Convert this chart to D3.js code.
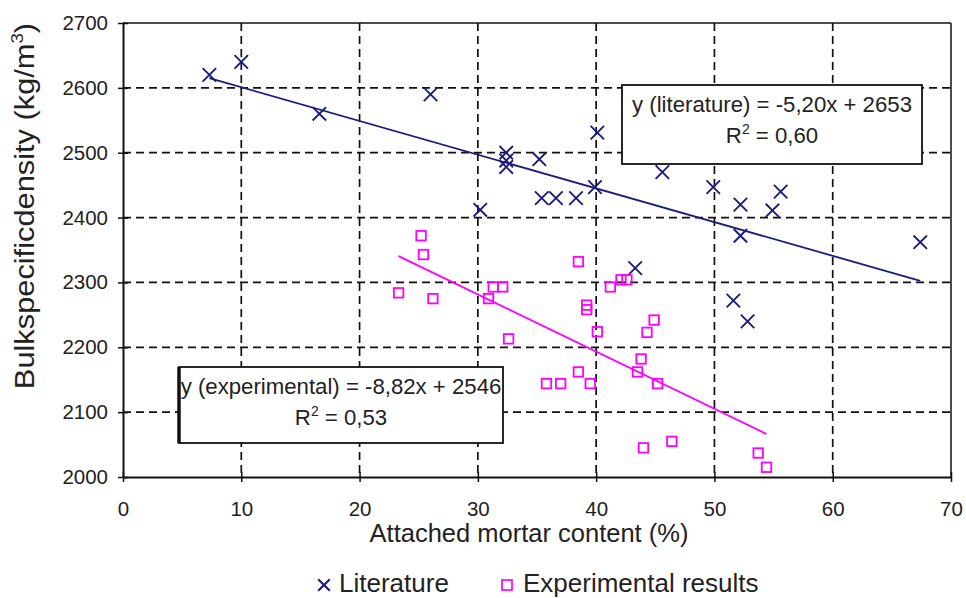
<!DOCTYPE html>
<html>
<head>
<meta charset="utf-8">
<script src="https://cdn.jsdelivr.net/npm/d3@7/dist/d3.min.js"></script>
<style>
  html, body { margin: 0; padding: 0; background: #fff; }
  svg text { font-family: "Liberation Sans", Arial, sans-serif; fill: #222; }
</style>
</head>
<body>
<svg id="chart" width="966" height="598"></svg>
<script>
// Attached mortar content (%) vs bulk specific density (kg/m3)
const literatureX = [7.3, 10.0, 16.6, 26.0, 32.4, 32.4, 32.4, 35.2, 35.4, 36.6, 38.3, 30.2,
                     40.1, 39.9, 45.6, 49.9, 52.2, 55.6, 54.9, 52.2, 67.4, 43.3, 51.6, 52.8];
const literatureY = [2620, 2640, 2560, 2590, 2500, 2488, 2478, 2490, 2430, 2430, 2430, 2412,
                     2531, 2447, 2470, 2447, 2420, 2440, 2411, 2372, 2362, 2322, 2272, 2240];

const experimentalX = [25.2, 25.4, 23.3, 26.2, 31.3, 32.1, 30.9, 32.6, 38.5, 39.2, 39.2, 40.1,
                       41.2, 42.1, 42.6, 44.9, 44.3, 43.8, 43.5, 38.5, 39.5, 35.8, 37.0, 45.2,
                       44.0, 46.4, 53.7, 54.4];
const experimentalY = [2372, 2343, 2284, 2275, 2293, 2293, 2275, 2213, 2332, 2265, 2258, 2224,
                       2293, 2304, 2304, 2242, 2223, 2182, 2162, 2162, 2144, 2144, 2144, 2144,
                       2045, 2055, 2037, 2015];

// Linear fits as printed in the equation boxes
const literatureFit = { slope: -5.20, intercept: 2653, r2: "0,60", label: "y (literature) = -5,20x + 2653" };
const experimentalFit = { slope: -8.82, intercept: 2546, r2: "0,53", label: "y (experimental) = -8,82x + 2546" };

const xTicks = [0, 10, 20, 30, 40, 50, 60, 70];
const yTicks = [2000, 2100, 2200, 2300, 2400, 2500, 2600, 2700];

const navy = "#1c1c80";
const magenta = "#ff00ff";

const svg = d3.select("#chart");
const plotLeft = 123, plotRight = 951, plotTop = 23, plotBottom = 477;

const x = d3.scaleLinear().domain([0, 70]).range([plotLeft, plotRight]);
const y = d3.scaleLinear().domain([2000, 2700]).range([plotBottom, plotTop]);

// Dashed grid
const grid = svg.append("g");
grid.selectAll("line.h").data(yTicks.slice(1, -1)).join("line")
  .attr("x1", plotLeft).attr("x2", plotRight)
  .attr("y1", d => y(d)).attr("y2", d => y(d))
  .attr("stroke", "#111").attr("stroke-width", 1.7).attr("stroke-dasharray", "8,5");
grid.selectAll("line.v").data(xTicks.slice(1, -1)).join("line")
  .attr("y1", plotTop).attr("y2", plotBottom)
  .attr("x1", d => x(d)).attr("x2", d => x(d))
  .attr("stroke", "#111").attr("stroke-width", 1.7).attr("stroke-dasharray", "8,5");

// Frame
svg.append("line").attr("x1", plotLeft).attr("x2", plotRight).attr("y1", plotTop).attr("y2", plotTop)
  .attr("stroke", "#111").attr("stroke-width", 1.5);
svg.append("line").attr("x1", plotRight).attr("x2", plotRight).attr("y1", plotTop).attr("y2", plotBottom)
  .attr("stroke", "#111").attr("stroke-width", 1.5);

// Axes
const xAxis = d3.axisBottom(x).tickValues(xTicks).tickSizeInner(5).tickSizeOuter(0)
  .tickPadding(19).tickFormat(d3.format("d"));
const yAxis = d3.axisLeft(y).tickValues(yTicks).tickSizeInner(5).tickSizeOuter(0)
  .tickPadding(10).tickFormat(d3.format("d"));

const gx = svg.append("g").attr("transform", `translate(0,${plotBottom})`).call(xAxis);
const gy = svg.append("g").attr("transform", `translate(${plotLeft},0)`).call(yAxis);
[gx, gy].forEach(g => {
  g.attr("font-family", null).attr("font-size", null);
  g.select(".domain").attr("stroke", "#111").attr("stroke-width", 2);
  g.selectAll(".tick line").attr("stroke", "#111").attr("stroke-width", 1.5);
  g.selectAll(".tick text").attr("font-size", 20.5).attr("fill", "#222");
});
// ticks cross the axis line
gx.selectAll(".tick line").attr("y1", -5).attr("y2", 5);
gy.selectAll(".tick line").attr("x1", -5).attr("x2", 5);

// Axis titles
svg.append("text").attr("x", 529).attr("y", 542)
  .attr("text-anchor", "middle").attr("font-size", 25.5)
  .text("Attached mortar content (%)");
const yTitle = svg.append("text")
  .attr("transform", `translate(34,206) rotate(-90) scale(1.1,1)`)
  .attr("text-anchor", "middle").attr("font-size", 28);
yTitle.append("tspan").text("Bulkspecificdensity (kg/m");
yTitle.append("tspan").attr("font-size", 17).attr("dy", -11).text("3");
yTitle.append("tspan").attr("dy", 11).text(")");

// Trend lines over the range of each data set
function fitLine(fit, xs, color) {
  const x0 = d3.min(xs), x1 = d3.max(xs);
  svg.append("line")
    .attr("x1", x(x0)).attr("y1", y(fit.slope * x0 + fit.intercept))
    .attr("x2", x(x1)).attr("y2", y(fit.slope * x1 + fit.intercept))
    .attr("stroke", color).attr("stroke-width", 1.8);
}
fitLine(literatureFit, literatureX, navy);
fitLine(experimentalFit, experimentalX, magenta);

// Literature points: crosses
const cross = d3.symbol().type(d3.symbolX).size(120);
svg.append("g").selectAll("path").data(d3.range(literatureX.length)).join("path")
  .attr("transform", i => `translate(${x(literatureX[i])},${y(literatureY[i])})`)
  .attr("d", cross)
  .attr("fill", "none").attr("stroke", navy).attr("stroke-width", 1.9);

// Experimental points: hollow squares
const sq = 9.5;
svg.append("g").selectAll("rect").data(d3.range(experimentalX.length)).join("rect")
  .attr("x", i => x(experimentalX[i]) - sq / 2)
  .attr("y", i => y(experimentalY[i]) - sq / 2)
  .attr("width", sq).attr("height", sq)
  .attr("fill", "none").attr("stroke", magenta).attr("stroke-width", 1.8);

// Equation boxes
function eqBox(fit, bx, by, bw, bh, thickLeft) {
  const g = svg.append("g");
  g.append("rect").attr("x", bx).attr("y", by).attr("width", bw).attr("height", bh)
    .attr("fill", "#fff").attr("stroke", "#111").attr("stroke-width", 1.8);
  if (thickLeft) {
    g.append("line").attr("x1", bx).attr("x2", bx).attr("y1", by).attr("y2", by + bh)
      .attr("stroke", "#111").attr("stroke-width", 3.5);
  }
  const cx = bx + bw / 2;
  g.append("text").attr("x", cx).attr("y", by + 27).attr("text-anchor", "middle")
    .attr("font-size", 22.2).text(fit.label);
  const t = g.append("text").attr("x", cx).attr("y", by + 58).attr("text-anchor", "middle")
    .attr("font-size", 22.2);
  t.append("tspan").text("R");
  t.append("tspan").attr("font-size", 14).attr("dy", -9).text("2");
  t.append("tspan").attr("dy", 9).text(" = " + fit.r2);
}
eqBox(literatureFit, 622, 85, 300, 79, false);
eqBox(experimentalFit, 179, 367, 324, 76, true);

// Legend
const lg = svg.append("g");
lg.append("path").attr("transform", "translate(324,585)")
  .attr("d", d3.symbol().type(d3.symbolX).size(90))
  .attr("fill", "none").attr("stroke", navy).attr("stroke-width", 2.2);
lg.append("text").attr("x", 339).attr("y", 592).attr("font-size", 26).text("Literature");
lg.append("rect").attr("x", 502).attr("y", 580).attr("width", 10).attr("height", 10)
  .attr("fill", "none").attr("stroke", magenta).attr("stroke-width", 1.7);
lg.append("text").attr("x", 523).attr("y", 592).attr("font-size", 26).text("Experimental results");
</script>
</body>
</html>
